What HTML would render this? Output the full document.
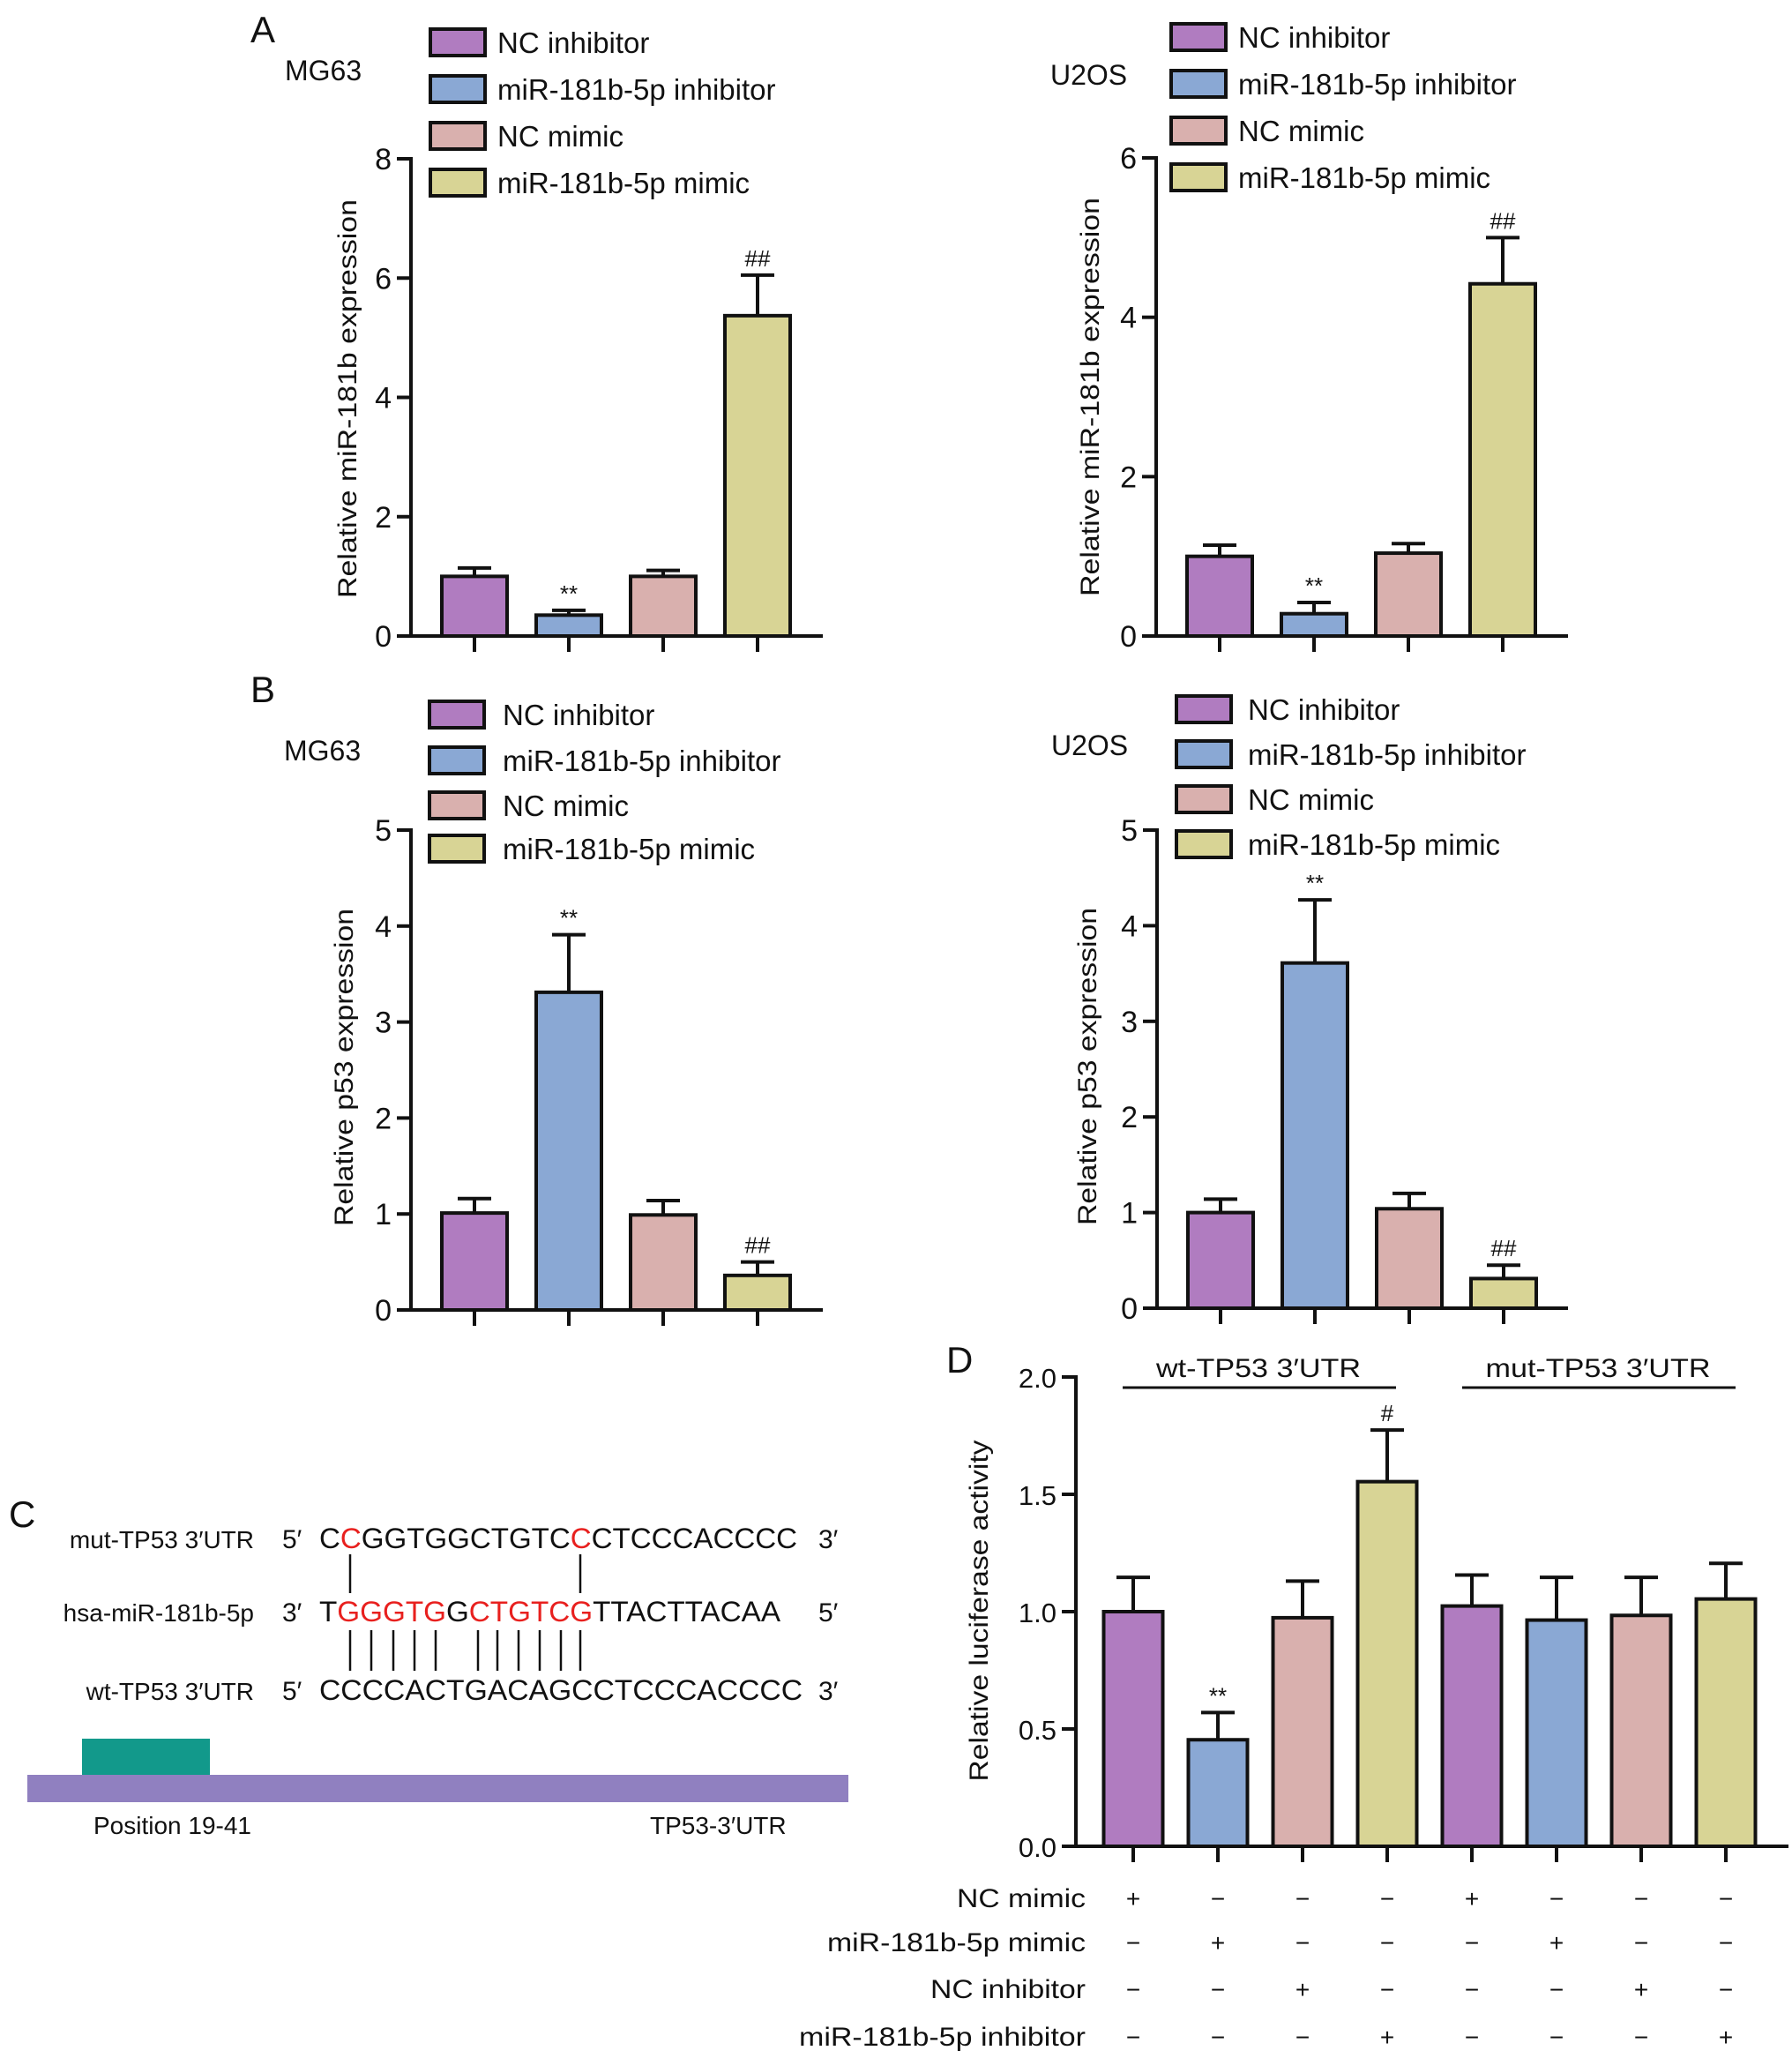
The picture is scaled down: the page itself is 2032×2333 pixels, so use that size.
<!DOCTYPE html>
<html><head><meta charset="utf-8"><style>
html,body{margin:0;padding:0;background:#fff;}
svg{display:block;}
text{font-family:"Liberation Sans",sans-serif;fill:#111;}
.n{font-family:"Liberation Sans Narrow","Liberation Sans",sans-serif;}
</style></head><body>
<svg id="fig" width="2032" height="2333" viewBox="0 0 2032 2333" xmlns="http://www.w3.org/2000/svg">
<g id="panelC">
<text x="10" y="1731" font-size="42">C</text>
<text class="n" x="288" y="1755" font-size="28" text-anchor="end">mut-TP53 3′UTR</text>
<text class="n" x="288" y="1838" font-size="28" text-anchor="end">hsa-miR-181b-5p</text>
<text class="n" x="288" y="1927" font-size="28" text-anchor="end">wt-TP53 3′UTR</text>
<text class="n" x="320" y="1755" font-size="30">5′</text>
<text class="n" x="320" y="1838" font-size="30">3′</text>
<text class="n" x="320" y="1927" font-size="30">5′</text>
<text class="n" x="928" y="1755" font-size="30">3′</text>
<text class="n" x="928" y="1838" font-size="30">5′</text>
<text class="n" x="928" y="1927" font-size="30">3′</text>
<text class="n" x="362" y="1755" font-size="32" textLength="542" lengthAdjust="spacingAndGlyphs">C<tspan fill="#e8201e">C</tspan>GGTGGCTGTC<tspan fill="#e8201e">C</tspan>CTCCCACCCC</text>
<text class="n" x="362" y="1838" font-size="32" textLength="523" lengthAdjust="spacingAndGlyphs">T<tspan fill="#e8201e">GGGTG</tspan>G<tspan fill="#e8201e">CTGTCG</tspan>TTACTTACAA</text>
<text class="n" x="362" y="1927" font-size="32" textLength="548" lengthAdjust="spacingAndGlyphs">CCCCACTGACAGCCTCCCACCCC</text>
<g id="pairs" stroke="#111" stroke-width="2.5"></g>
<rect x="93" y="1971" width="145" height="42" fill="#12998b"/>
<rect x="31" y="2012" width="931" height="31" fill="#9080c0"/>
<text class="n" x="106" y="2079" font-size="28">Position 19-41</text>
<text class="n" x="737" y="2079" font-size="28">TP53-3′UTR</text>
</g>
</svg>
<script>
const NS="http://www.w3.org/2000/svg";
const svg=document.getElementById('fig');
// ---- data ----
const groupsABC=["NC inhibitor","miR-181b-5p inhibitor","NC mimic","miR-181b-5p mimic"];
const aMG63Values=[1.0,0.35,1.0,5.37];
const aMG63Errors=[0.14,0.08,0.1,0.68];
const aMG63Marks=["","**","","##"];
const aMG63Ticks=[0,2,4,6,8];
const aU2OSValues=[1.0,0.28,1.04,4.42];
const aU2OSErrors=[0.14,0.14,0.12,0.58];
const aU2OSMarks=["","**","","##"];
const aU2OSTicks=[0,2,4,6];
const bMG63Values=[1.01,3.31,0.99,0.36];
const bMG63Errors=[0.15,0.6,0.15,0.14];
const bMG63Marks=["","**","","##"];
const bMG63Ticks=[0,1,2,3,4,5];
const bU2OSValues=[1.0,3.61,1.04,0.31];
const bU2OSErrors=[0.14,0.66,0.16,0.14];
const bU2OSMarks=["","**","","##"];
const bU2OSTicks=[0,1,2,3,4,5];
const dValues=[1.0,0.454,0.974,1.554,1.024,0.964,0.984,1.054];
const dErrors=[0.146,0.116,0.156,0.22,0.132,0.182,0.162,0.152];
const dMarks=["","**","","#","","","",""];
const dTicks=[0,0.5,1.0,1.5,2.0];
const dTickLabels=["0.0","0.5","1.0","1.5","2.0"];
const dRowLabels=["NC mimic","miR-181b-5p mimic","NC inhibitor","miR-181b-5p inhibitor"];
const dConditions=[
 ["+","−","−","−","+","−","−","−"],
 ["−","+","−","−","−","+","−","−"],
 ["−","−","+","−","−","−","+","−"],
 ["−","−","−","+","−","−","−","+"]];
const colors=["#b07cc0","#8aa8d4","#d9b0ae","#d8d495"];
const pairX=[397,421,446,470,494,542,564,588,612,636,658];
const mutPairX=[397,658];

function mk(tag,attrs,parent,txt){const e=document.createElementNS(NS,tag);for(const k in attrs)e.setAttribute(k,attrs[k]);if(txt!==undefined)e.textContent=txt;(parent||svg).appendChild(e);return e;}

const pg=document.getElementById('pairs');
pairX.forEach(x=>{const l=mk('line',{x1:x,x2:x,y1:1848,y2:1894},pg);

});
mutPairX.forEach(x=>{const l=mk('line',{x1:x,x2:x,y1:1762,y2:1806},pg);

});

function chart(cfg,values,errors,marks,ticks,tickLabels,barColors){
 const g=mk('g',{});
 
 
 const yMax=ticks[ticks.length-1];
 const y=v=>cfg.zeroY-(v/yMax)*(cfg.zeroY-cfg.topY);
 const x=i=>cfg.axisX+cfg.off+i*cfg.step;
 values.forEach((v,i)=>{
  const cx=x(i),e=errors[i];
  const el=mk('line',{x1:cx,x2:cx,y1:y(v),y2:y(v+e),stroke:'#111','stroke-width':4},g);
  
  
  const cap=mk('line',{x1:cx-19,x2:cx+19,y1:y(v+e),y2:y(v+e),stroke:'#111','stroke-width':4},g);
  
  
  const r=mk('rect',{x:cx-cfg.bw/2,y:y(v),width:cfg.bw,height:cfg.zeroY-y(v),fill:barColors[i%4],stroke:'#111','stroke-width':4},g);
  
  
  if(marks[i]){const t=mk('text',{x:cx,y:y(v+e)-10,'font-size':26,'text-anchor':'middle'},g,marks[i]);
   
   }
  const tk=mk('line',{x1:cx,x2:cx,y1:cfg.zeroY,y2:cfg.zeroY+18,stroke:'#111','stroke-width':4},g);
  
  
 });
 const ya=mk('line',{x1:cfg.axisX,x2:cfg.axisX,y1:cfg.topY-2,y2:cfg.zeroY+2,stroke:'#111','stroke-width':4},g);
 
 
 const xa=mk('line',{x1:cfg.axisX-16,x2:cfg.xEnd,y1:cfg.zeroY,y2:cfg.zeroY,stroke:'#111','stroke-width':4},g);
 
 
 ticks.forEach((t,i)=>{
  const l=mk('line',{x1:cfg.axisX-16,x2:cfg.axisX,y1:y(t),y2:y(t),stroke:'#111','stroke-width':4},g);
  
  
  const tl=mk('text',{x:cfg.axisX-22,y:y(t)+12,'font-size':cfg.tickFs,'text-anchor':'end',class:cfg.cls||''},g,tickLabels[i]);
  
  
 });
 const yt=mk('text',{x:0,y:0,'font-size':cfg.titleFs,'text-anchor':'middle',class:cfg.cls||'',transform:`translate(${cfg.titleX},${cfg.titleY}) rotate(-90)`,textLength:cfg.titleLen,lengthAdjust:'spacingAndGlyphs'},g,cfg.title);
 
 
 return g;
}
function legend(x,ys,tx,name){
 const g=mk('g',{});
 
 
 groupsABC.forEach((lab,i)=>{
  const r=mk('rect',{x:x,y:ys[i]-15,width:62,height:30,fill:colors[i],stroke:'#111','stroke-width':4},g);
  
  
  const t=mk('text',{x:tx,y:ys[i]+12,'font-size':33},g,lab);
  
  
 });
}
function label(x,y,fs,s,name){const t=mk('text',{x:x,y:y,'font-size':fs},svg,s);
 
 }

// Panel A
label(284,48,42,'A','panel-label-a');
label(323,91,32,'MG63','cell-line-mg63-a');
label(1191,96,32,'U2OS','cell-line-u2os-a');
chart({name:'chart-a-mg63',axisX:466,off:72,step:107,bw:74,zeroY:721,topY:180,xEnd:933,tickFs:34,titleFs:30,titleX:404,titleY:452,titleLen:452,title:'Relative miR-181b expression'},aMG63Values,aMG63Errors,aMG63Marks,aMG63Ticks,aMG63Ticks.map(String),colors);
legend(488,[48,101,154,207],564,'legend-a-mg63');
chart({name:'chart-a-u2os',axisX:1311,off:72,step:107,bw:74,zeroY:721,topY:179,xEnd:1778,tickFs:34,titleFs:30,titleX:1246,titleY:450,titleLen:452,title:'Relative miR-181b expression'},aU2OSValues,aU2OSErrors,aU2OSMarks,aU2OSTicks,aU2OSTicks.map(String),colors);
legend(1328,[42,95,148,201],1404,'legend-a-u2os');
// Panel B
label(284,796,42,'B','panel-label-b');
label(322,862,32,'MG63','cell-line-mg63-b');
label(1192,856,32,'U2OS','cell-line-u2os-b');
chart({name:'chart-b-mg63',axisX:466,off:72,step:107,bw:74,zeroY:1485,topY:941,xEnd:933,tickFs:34,titleFs:30,titleX:400,titleY:1210,titleLen:360,title:'Relative p53 expression'},bMG63Values,bMG63Errors,bMG63Marks,bMG63Ticks,bMG63Ticks.map(String),colors);
legend(487,[810,862,913,962],570,'legend-b-mg63');
chart({name:'chart-b-u2os',axisX:1312,off:72,step:107,bw:74,zeroY:1483,topY:941,xEnd:1778,tickFs:34,titleFs:30,titleX:1243,titleY:1209,titleLen:360,title:'Relative p53 expression'},bU2OSValues,bU2OSErrors,bU2OSMarks,bU2OSTicks,bU2OSTicks.map(String),colors);
legend(1334,[804,855,906,957],1415,'legend-b-u2os');
// Panel D
label(1073,1556,42,'D','panel-label-d');
const dg=chart({name:'chart-d-luciferase',axisX:1220,off:65,step:96,bw:67,zeroY:2093,topY:1561,xEnd:2028,tickFs:31,cls:'n',titleFs:30,titleX:1120,titleY:1826,titleLen:387,title:'Relative luciferase activity'},dValues,dErrors,dMarks,dTicks,dTickLabels,colors);
[[1273,1583,1427,'wt-TP53 3′UTR',232],[1658,1968,1812,'mut-TP53 3′UTR',255]].forEach(a=>{
 const l=mk('line',{x1:a[0],x2:a[1],y1:1573,y2:1573,stroke:'#111','stroke-width':3});
 
 
 const t=mk('text',{x:a[2],y:1561,'font-size':30,'text-anchor':'middle',class:'n',textLength:a[4],lengthAdjust:'spacingAndGlyphs'},svg,a[3]);
 
 
});
const rowY=[2152,2202,2255,2309];
const rowW=[146,293,176,325];
dRowLabels.forEach((lab,r)=>{
 const t=mk('text',{x:1231,y:rowY[r]+10,'font-size':30,'text-anchor':'end',class:'n',textLength:rowW[r],lengthAdjust:'spacingAndGlyphs'},svg,lab);
 
 
 dConditions[r].forEach((s,i)=>{
  const c=mk('text',{x:1220+65+i*96,y:rowY[r]+10,'font-size':28,'text-anchor':'middle'},svg,s);
  
  
 });
});
</script>
</body></html>
